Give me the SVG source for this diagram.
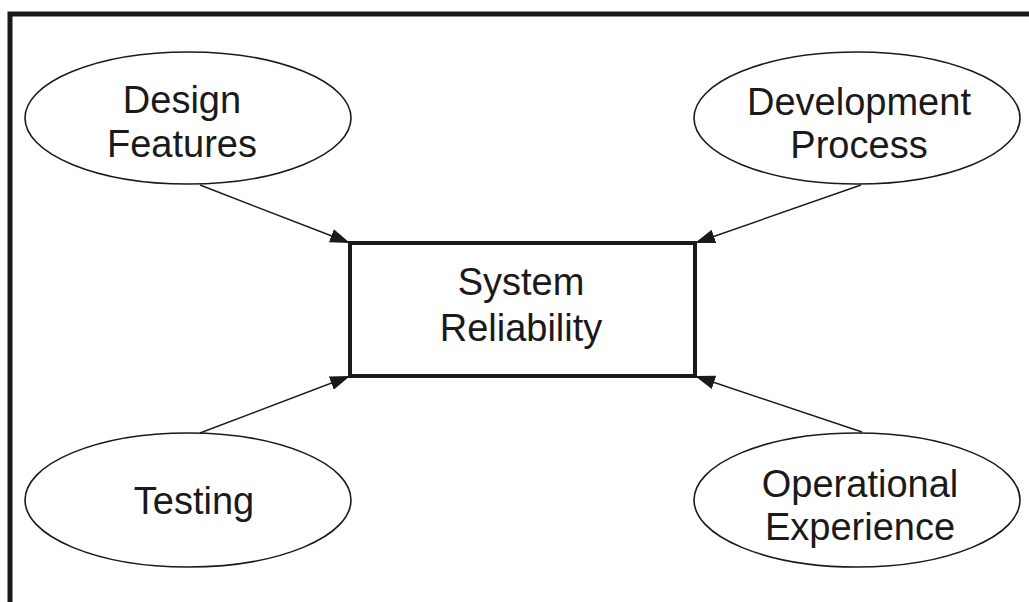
<svg xmlns="http://www.w3.org/2000/svg" width="1029" height="602" viewBox="0 0 1029 602">
  <style>
    .frame { fill: none; stroke: #1a1a1a; stroke-width: 5; }
    .oval { fill: #ffffff; stroke: #1a1a1a; stroke-width: 1.6; }
    .box { fill: #ffffff; stroke: #1a1a1a; stroke-width: 4; }
    .edge { fill: none; stroke: #1a1a1a; stroke-width: 1.4; }
    .label { font-family: "Liberation Sans", Arial, sans-serif; font-size: 38px; fill: #1a1a1a; text-anchor: middle; }
  </style>
  <defs>
    <marker id="arrow" viewBox="0 0 20 14" refX="20" refY="7" markerWidth="20" markerHeight="14" markerUnits="userSpaceOnUse" orient="auto">
      <path d="M0,0 L20,7 L0,14 Z" fill="#1a1a1a"/>
    </marker>
  </defs>

  <rect width="1029" height="602" fill="#ffffff"/>

  <!-- outer frame, open towards the right and bottom -->
  <path class="frame" d="M10,602 V14 H1029"/>

  <!-- connectors into the central box -->
  <g id="connectors">
    <line class="edge" x1="200" y1="185" x2="350" y2="243" marker-end="url(#arrow)"/>
    <line class="edge" x1="861" y1="185" x2="695" y2="243" marker-end="url(#arrow)"/>
    <line class="edge" x1="200" y1="433" x2="350" y2="376" marker-end="url(#arrow)"/>
    <line class="edge" x1="862" y1="432" x2="695" y2="376" marker-end="url(#arrow)"/>
  </g>

  <g id="system-reliability">
    <rect class="box" x="350" y="243" width="345" height="133"/>
    <text class="label" x="521" y="295">System</text>
    <text class="label" x="521" y="341">Reliability</text>
  </g>

  <g id="design-features">
    <ellipse class="oval" cx="188" cy="118" rx="163" ry="66"/>
    <text class="label" x="182" y="113">Design</text>
    <text class="label" x="182" y="157">Features</text>
  </g>

  <g id="development-process">
    <ellipse class="oval" cx="857" cy="118" rx="163" ry="66"/>
    <text class="label" x="859" y="115">Development</text>
    <text class="label" x="859" y="158">Process</text>
  </g>

  <g id="testing">
    <ellipse class="oval" cx="188" cy="500" rx="163" ry="67"/>
    <text class="label" x="194" y="514">Testing</text>
  </g>

  <g id="operational-experience">
    <ellipse class="oval" cx="857" cy="500" rx="163" ry="67"/>
    <text class="label" x="860" y="497">Operational</text>
    <text class="label" x="860" y="540">Experience</text>
  </g>
</svg>
